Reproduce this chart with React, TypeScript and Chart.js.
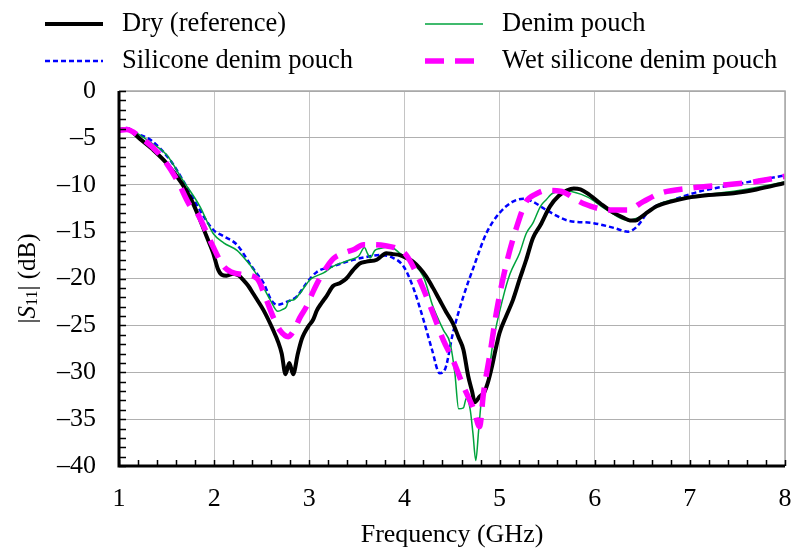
import React, { useEffect, useRef } from "react";
import { Chart, registerables } from "chart.js";

Chart.register(...registerables);

const dryF = [1.0, 1.08, 1.22, 1.35, 1.5, 1.66, 1.76, 1.85, 1.92, 1.99, 2.04, 2.08, 2.13, 2.2, 2.26, 2.31, 2.36, 2.41, 2.46, 2.52, 2.57, 2.62, 2.67, 2.71, 2.75, 2.79, 2.83, 2.88, 2.92, 2.95, 2.99, 3.04, 3.08, 3.13, 3.18, 3.25, 3.32, 3.39, 3.46, 3.53, 3.6, 3.71, 3.81, 3.88, 3.95, 4.02, 4.09, 4.16, 4.23, 4.3, 4.37, 4.44, 4.51, 4.57, 4.62, 4.67, 4.71, 4.74, 4.79, 4.84, 4.88, 4.92, 4.96, 5.0, 5.07, 5.14, 5.21, 5.28, 5.35, 5.43, 5.53, 5.62, 5.71, 5.78, 5.85, 5.92, 6.06, 6.2, 6.3, 6.37, 6.43, 6.48, 6.56, 6.65, 6.8, 6.97, 7.2, 7.46, 7.7, 8.0];
const dryS = [-4.2, -4.05, -5.1, -6.2, -7.7, -9.85, -11.6, -13.7, -15.5, -17.3, -19.0, -19.6, -19.7, -19.5, -19.7, -20.2, -20.8, -21.6, -22.4, -23.4, -24.4, -25.5, -26.7, -28.0, -30.2, -29.0, -30.2, -28.0, -26.5, -25.8, -25.1, -24.4, -23.4, -22.6, -21.9, -20.8, -20.5, -20.0, -19.1, -18.4, -18.2, -18.0, -17.3, -17.4, -17.5, -17.8, -18.2, -18.9, -19.8, -21.0, -22.3, -23.6, -24.8, -26.3, -27.6, -30.4, -32.0, -33.2, -32.6, -32.1, -31.0, -29.4, -27.5, -25.8, -24.0, -22.3, -20.1, -18.0, -15.7, -14.3, -12.3, -11.2, -10.6, -10.4, -10.5, -10.9, -12.0, -13.0, -13.5, -13.8, -13.8, -13.5, -12.9, -12.3, -11.8, -11.4, -11.1, -10.9, -10.5, -9.8];

const denimF = [1.0, 1.08, 1.22, 1.35, 1.5, 1.67, 1.85, 1.99, 2.1, 2.24, 2.34, 2.41, 2.48, 2.59, 2.67, 2.72, 2.76, 2.78, 2.83, 2.9, 3.01, 3.15, 3.25, 3.43, 3.52, 3.58, 3.61, 3.64, 3.69, 3.74, 3.85, 3.95, 4.09, 4.2, 4.3, 4.41, 4.48, 4.53, 4.57, 4.62, 4.65, 4.69, 4.72, 4.75, 4.78, 4.81, 4.86, 4.93, 5.04, 5.11, 5.21, 5.28, 5.35, 5.43, 5.49, 5.56, 5.71, 5.92, 6.13, 6.34, 6.4, 6.48, 6.69, 6.97, 7.46, 8.0];
const denimS = [-4.0, -3.95, -4.7, -5.6, -6.8, -9.5, -12.3, -15.2, -16.2, -17.0, -18.1, -19.0, -20.2, -22.3, -23.5, -23.3, -23.0, -22.4, -22.3, -21.6, -20.1, -19.4, -18.7, -18.0, -17.6, -16.7, -17.3, -17.8, -17.0, -16.8, -16.6, -17.3, -18.4, -19.8, -23.0, -25.5, -26.9, -30.1, -33.9, -33.8, -32.8, -33.9, -36.5, -39.4, -36.2, -33.0, -31.9, -26.9, -21.9, -19.5, -17.3, -15.2, -14.1, -12.3, -11.6, -10.9, -10.7, -11.3, -12.7, -13.8, -13.7, -13.4, -12.0, -11.3, -10.7, -9.7];

const siliconeF = [1.0, 1.08, 1.2, 1.33, 1.54, 1.71, 1.85, 1.99, 2.1, 2.24, 2.38, 2.45, 2.52, 2.6, 2.66, 2.76, 2.87, 2.97, 3.08, 3.25, 3.43, 3.6, 3.74, 3.88, 3.99, 4.09, 4.2, 4.29, 4.37, 4.43, 4.51, 4.62, 4.73, 4.86, 5.0, 5.14, 5.25, 5.35, 5.46, 5.58, 5.71, 5.99, 6.2, 6.35, 6.44, 6.58, 6.83, 7.11, 7.46, 8.0];
const siliconeS = [-4.3, -3.95, -4.6, -5.2, -7.4, -10.2, -12.7, -14.8, -15.5, -16.4, -18.5, -19.5, -20.5, -22.3, -22.8, -22.5, -21.9, -20.5, -19.3, -18.7, -18.1, -17.7, -17.5, -17.8, -18.7, -20.9, -24.4, -27.6, -30.1, -29.6, -25.8, -21.9, -18.7, -15.2, -13.0, -11.8, -11.5, -11.8, -12.5, -13.2, -13.8, -14.1, -14.6, -15.0, -14.5, -12.7, -11.6, -10.7, -10.0, -9.0];

const wetF = [1.0, 1.08, 1.22, 1.43, 1.61, 1.75, 1.82, 1.96, 2.1, 2.18, 2.31, 2.45, 2.55, 2.62, 2.69, 2.78, 2.84, 2.9, 2.97, 3.04, 3.11, 3.25, 3.36, 3.47, 3.57, 3.67, 3.8, 3.92, 4.02, 4.16, 4.3, 4.41, 4.51, 4.62, 4.73, 4.79, 4.83, 4.9, 4.97, 5.07, 5.18, 5.28, 5.38, 5.49, 5.64, 5.88, 6.16, 6.34, 6.51, 6.69, 6.97, 7.39, 7.67, 8.0];
const wetS = [-4.2, -4.1, -4.9, -6.8, -9.5, -12.3, -13.0, -16.0, -18.7, -19.3, -19.6, -20.0, -22.3, -24.1, -25.5, -26.2, -25.5, -24.2, -23.0, -21.4, -20.0, -17.9, -17.3, -16.9, -16.4, -16.4, -16.5, -16.8, -17.5, -20.2, -23.7, -26.6, -28.7, -31.5, -34.0, -35.8, -32.3, -28.0, -23.4, -18.5, -14.5, -11.8, -11.0, -10.6, -10.7, -12.0, -12.7, -12.7, -11.8, -10.9, -10.4, -10.0, -9.7, -9.1];

const seriesNames = ["Dry (reference)", "Denim pouch", "Silicone denim pouch", "Wet silicone denim pouch"];
const xTicks = [1, 2, 3, 4, 5, 6, 7, 8];
const yTicks = [0, -5, -10, -15, -20, -25, -30, -35, -40];

const FONT = "'Liberation Serif', 'Times New Roman', serif";

const styles = [
  { color: "#000000", width: 4, dash: [] as number[] },
  { color: "#00a33c", width: 1.5, dash: [] as number[] },
  { color: "#0000ff", width: 2.5, dash: [5, 3] },
  { color: "#ff00ff", width: 5.5, dash: [19, 11] },
];

function pts(f: number[], s: number[]) {
  return f.map((x, i) => ({ x, y: s[i] }));
}

const decorPlugin = {
  id: "decor",
  afterDatasetsDraw(chart: any) {
    const ctx = chart.ctx;
    const { left, right, top, bottom } = chart.chartArea;
    const xs = chart.scales.x;
    const ys = chart.scales.y;
    ctx.save();
    ctx.strokeStyle = "#a6a6a6";
    ctx.lineWidth = 1.5;
    ctx.beginPath();
    ctx.moveTo(left, top);
    ctx.lineTo(right, top);
    ctx.lineTo(right, bottom);
    ctx.stroke();
    ctx.strokeStyle = "#000";
    ctx.lineWidth = 1.5;
    ctx.beginPath();
    for (let v = 0; v >= -40; v -= 1) {
      const y = Math.round(ys.getPixelForValue(v)) + 0.5;
      ctx.moveTo(left, y);
      ctx.lineTo(left + 7, y);
    }
    for (let k = 0; k <= 35; k++) {
      const x = Math.round(xs.getPixelForValue(1 + k * 0.2)) + 0.5;
      ctx.moveTo(x, bottom);
      ctx.lineTo(x, bottom - 6);
    }
    ctx.stroke();
    ctx.lineWidth = 3;
    ctx.beginPath();
    ctx.moveTo(left, top);
    ctx.lineTo(left, bottom);
    ctx.lineTo(right, bottom);
    ctx.stroke();

    ctx.fillStyle = "#000";
    ctx.font = `26px ${FONT}`;
    ctx.textAlign = "center";
    ctx.textBaseline = "middle";
    ctx.fillText("Frequency (GHz)", (left + right) / 2, 535);

    ctx.save();
    ctx.translate(28, (top + bottom) / 2);
    ctx.rotate(-Math.PI / 2);
    const parts = [
      { t: "|", font: `25px ${FONT}`, dy: 0 },
      { t: "S", font: `italic 25px ${FONT}`, dy: 0 },
      { t: "11", font: `16px ${FONT}`, dy: 5 },
      { t: "| (dB)", font: `25px ${FONT}`, dy: 0 },
    ];
    let total = 0;
    for (const p of parts) {
      ctx.font = p.font;
      total += ctx.measureText(p.t).width;
    }
    let cx = -total / 2;
    ctx.textAlign = "left";
    ctx.textBaseline = "middle";
    for (const p of parts) {
      ctx.font = p.font;
      ctx.fillText(p.t, cx, p.dy);
      cx += ctx.measureText(p.t).width;
    }
    ctx.restore();

    const entries = [
      { i: 0, x0: 45, y: 24 },
      { i: 1, x0: 425, y: 24 },
      { i: 2, x0: 45, y: 61 },
      { i: 3, x0: 425, y: 61 },
    ];
    for (const e of entries) {
      const st = styles[e.i];
      ctx.strokeStyle = st.color;
      ctx.lineWidth = st.width;
      ctx.setLineDash(st.dash);
      ctx.beginPath();
      ctx.moveTo(e.x0, e.y);
      ctx.lineTo(e.x0 + 58, e.y);
      ctx.stroke();
      ctx.setLineDash([]);
      ctx.fillStyle = "#000";
      ctx.font = `26.5px ${FONT}`;
      ctx.textAlign = "left";
      ctx.textBaseline = "middle";
      ctx.fillText(seriesNames[e.i], e.x0 + 77, e.y);
    }
    ctx.restore();
  },
};

export default function App() {
  const ref = useRef<HTMLCanvasElement | null>(null);
  useEffect(() => {
    document.body.style.margin = "0";
    const canvas = ref.current;
    if (!canvas) return;
    const data = [pts(dryF, dryS), pts(denimF, denimS), pts(siliconeF, siliconeS), pts(wetF, wetS)];
    const order = [1, 2, 3, 0];
    const datasets = [0, 1, 2, 3].map((i) => ({
      label: seriesNames[i],
      data: data[i],
      borderColor: styles[i].color,
      borderWidth: styles[i].width,
      borderDash: styles[i].dash,
      pointRadius: 0,
      fill: false,
      tension: 0.35,
      cubicInterpolationMode: "monotone" as const,
      order: order[i],
    }));
    const chart = new Chart(canvas, {
      type: "line",
      data: { datasets },
      options: {
        responsive: false,
        animation: false,
        layout: { padding: { top: 91, right: 10, left: 0, bottom: 0 } },
        plugins: { legend: { display: false }, tooltip: { enabled: false } },
        scales: {
          x: {
            type: "linear",
            min: 1,
            max: 8,
            afterFit: (s: any) => { s.height = 85; s.paddingLeft = 0; s.paddingRight = 0; },
            afterBuildTicks: (s: any) => { s.ticks = xTicks.map((v) => ({ value: v })); },
            border: { display: false },
            grid: { color: "#c4c4c4", lineWidth: 1, drawTicks: false },
            ticks: { color: "#000", font: { family: FONT, size: 26 }, padding: 18, maxRotation: 0, callback: (v: any) => String(v) },
          },
          y: {
            type: "linear",
            min: -40,
            max: 0,
            afterFit: (s: any) => { s.width = 119; s.paddingTop = 0; s.paddingBottom = 0; },
            afterBuildTicks: (s: any) => { s.ticks = yTicks.map((v) => ({ value: v })); },
            border: { display: false },
            grid: { color: "#b0b0b0", lineWidth: 1, drawTicks: false },
            ticks: {
              color: "#000",
              font: { family: FONT, size: 26 },
              padding: 23,
              callback: (v: any) => (Number(v) < 0 ? "\u2013" + Math.abs(Number(v)) : String(v)),
            },
          },
        },
      },
      plugins: [decorPlugin],
    });
    return () => chart.destroy();
  }, []);
  return (
    <div style={{ width: 795, height: 551 }}>
      <canvas ref={ref} width={795} height={551} style={{ display: "block" }} />
    </div>
  );
}
